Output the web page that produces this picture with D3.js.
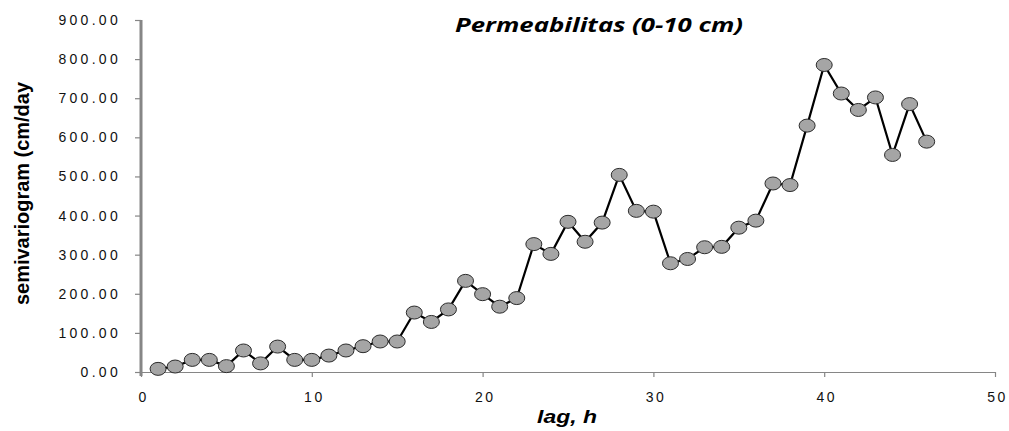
<!DOCTYPE html>
<html>
<head>
<meta charset="utf-8">
<script src="https://cdn.jsdelivr.net/npm/d3@7/dist/d3.min.js"></script>
<style>
  html, body { margin: 0; padding: 0; background: #fff; }
  svg { display: block; }
</style>
</head>
<body>
<svg id="chart" width="1009" height="431"></svg>
<script>
// ── data ──
const lags = d3.range(1, 47);
const gamma = [
  8, 14, 31, 31, 15, 55, 22, 65, 31, 31,
  42, 55, 66, 78, 78, 152, 128, 160, 233, 199,
  167, 189, 327, 302, 384, 333, 382, 504, 412, 410,
  278, 289, 319, 320, 369, 387, 482, 478, 630, 785,
  712, 670, 702, 555, 685, 589
];
const yTicks = d3.range(0, 901, 100);
const xTicks = [0, 10, 20, 30, 40, 50];

const x = d3.scaleLinear([0, 50], [141, 995]);
const y = d3.scaleLinear([0, 900], [372, 20]);

const svg = d3.select('#chart');
const AXIS = '#868686';
const TICKFONT = '"Liberation Sans", Arial, sans-serif';

// ── x axis ──
const gx = svg.append('g').attr('transform', `translate(0,${y(0)})`)
  .call(d3.axisBottom(x).tickValues(xTicks).tickFormat(d3.format('d')).tickSize(5).tickSizeOuter(0));
gx.select('.domain').attr('stroke', AXIS).attr('stroke-width', 1.2);
gx.selectAll('.tick line').attr('stroke', AXIS).attr('stroke-width', 1.2);
gx.selectAll('.tick text')
  .attr('y', 20).attr('dx', '0.15em')
  .attr('font-family', TICKFONT).attr('font-size', 14).attr('letter-spacing', '2.5px')
  .attr('fill', '#111');

// ── y axis ──
const gy = svg.append('g').attr('transform', `translate(${x(0)},0)`)
  .call(d3.axisLeft(y).tickValues(yTicks).tickFormat(d3.format('.2f')).tickSize(6).tickSizeOuter(0));
gy.select('.domain').remove();
gy.selectAll('.tick line').attr('stroke', AXIS).attr('stroke-width', 1.2);
gy.selectAll('.tick text')
  .attr('x', -20)
  .attr('font-family', TICKFONT).attr('font-size', 14).attr('letter-spacing', '3.3px')
  .attr('fill', '#111');
svg.append('line')
  .attr('x1', x(0)).attr('x2', x(0))
  .attr('y1', y(900)).attr('y2', y(0) + 4)
  .attr('stroke', AXIS).attr('stroke-width', 3);

// ── series ──
const pts = lags.map((l, i) => [l, gamma[i]]);
svg.append('path')
  .datum(pts)
  .attr('fill', 'none').attr('stroke', '#000').attr('stroke-width', 2.2)
  .attr('d', d3.line().x(d => x(d[0])).y(d => y(d[1])));

svg.append('g').selectAll('ellipse')
  .data(pts)
  .join('ellipse')
  .attr('cx', d => x(d[0])).attr('cy', d => y(d[1]))
  .attr('rx', 8).attr('ry', 6.5)
  .attr('fill', '#a5a5a5').attr('stroke', '#2b2b2b').attr('stroke-width', 1);

// ── titles ──
svg.append('text')
  .attr('x', 455).attr('y', 32)
  .attr('textLength', 288).attr('lengthAdjust', 'spacingAndGlyphs')
  .attr('font-family', '"Open Sans", sans-serif').attr('font-weight', 'bold').attr('font-style', 'italic')
  .attr('font-size', 20)
  .text('Permeabilitas (0-10 cm)');

svg.append('text')
  .attr('transform', 'translate(29,305) rotate(-90)')
  .attr('textLength', 223).attr('lengthAdjust', 'spacingAndGlyphs')
  .attr('font-family', '"Liberation Sans", Arial, sans-serif').attr('font-weight', 'bold')
  .attr('font-size', 20)
  .text('semivariogram (cm/day');

svg.append('text')
  .attr('x', 537).attr('y', 423)
  .attr('textLength', 60).attr('lengthAdjust', 'spacingAndGlyphs')
  .attr('font-family', '"Liberation Sans", Arial, sans-serif').attr('font-weight', 'bold').attr('font-style', 'italic')
  .attr('font-size', 19)
  .text('lag, h');
</script>
</body>
</html>
